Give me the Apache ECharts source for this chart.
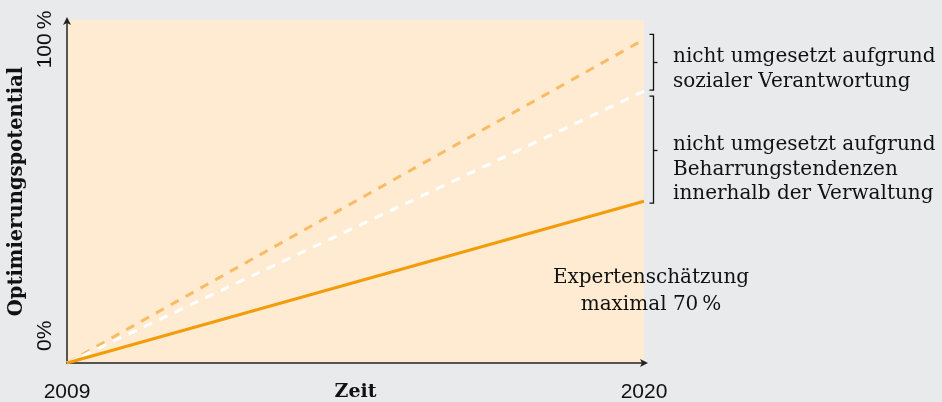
<!DOCTYPE html>
<html>
<head>
<meta charset="utf-8">
<title>Optimierungspotential</title>
<script src="https://cdn.jsdelivr.net/npm/echarts@6/dist/echarts.min.js"></script>
<style>
  html, body { margin: 0; padding: 0; background: #e9eaec; }
  #chart { width: 942px; height: 402px; }
</style>
</head>
<body>
<div id="chart"></div>
<script>
// Zeitachse (nur Anfangs- und Endjahr beschriftet)
const years = [2009, 2020]
// Optimierungspotential in %, jeweils Start- und Endwert
const totalPotential = [0, 100]   // gesamtes Potential
const afterSocial = [0, 84]       // ohne sozial bedingte Einschränkung
const realized = [0, 50]          // tatsächlich umgesetzt
const yTickValues = [0, 100]

const serif = 'DejaVu Serif'
const sans = 'Liberation Sans'

const chart = echarts.init(document.getElementById('chart'))

function pairs(values) {
  return years.map((y, i) => [y, values[i]])
}

chart.setOption({
  backgroundColor: '#e9eaec',
  animation: false,
  grid: {
    left: 67,
    right: 298,
    top: 20,
    bottom: 39,
    outerBoundsMode: 'none',
    show: true,
    backgroundColor: '#feebd2',
    borderWidth: 0
  },
  xAxis: {
    type: 'value',
    min: years[0],
    max: years[1],
    name: 'Zeit',
    nameLocation: 'middle',
    nameGap: 20,
    nameMoveOverlap: false,
    nameTextStyle: { fontFamily: serif, fontWeight: 'bold', fontSize: 19, color: '#111' },
    splitLine: { show: false },
    axisTick: { show: false },
    axisLine: {
      lineStyle: { color: '#222', width: 1.5 },
      symbol: ['none', 'arrow'],
      symbolSize: [6, 8],
      symbolOffset: [0, 4]
    },
    axisLabel: {
      customValues: years,
      margin: 19,
      fontFamily: sans,
      fontSize: 21,
      color: '#111',
      formatter: v => String(v)
    }
  },
  yAxis: {
    type: 'value',
    min: 0,
    max: 106,
    name: 'Optimierungspotential',
    nameLocation: 'middle',
    nameGap: 40,
    nameMoveOverlap: false,
    nameRotate: 90,
    nameTextStyle: { fontFamily: serif, fontWeight: 'bold', fontSize: 19.5, color: '#111' },
    splitLine: { show: false },
    axisTick: { show: false },
    axisLine: {
      lineStyle: { color: '#222', width: 1.5 },
      symbol: ['none', 'arrow'],
      symbolSize: [6, 8],
      symbolOffset: [0, 3]
    },
    axisLabel: {
      customValues: yTickValues,
      rotate: 90,
      margin: 11,
      alignMinLabel: 'left',
      fontFamily: sans,
      fontSize: 21,
      color: '#111',
      formatter: v => (v === 0 ? '{z|0%}' : v + '\u2009%'),
      rich: {
        z: { fontFamily: sans, fontSize: 21, color: '#111', padding: [0, 0, 0, 12] }
      }
    }
  },
  series: [
    {
      type: 'line',
      data: pairs(totalPotential),
      symbol: 'none',
      lineStyle: { color: '#f9bb63', width: 3, type: [9, 8] },
      z: 2
    },
    {
      type: 'line',
      data: pairs(afterSocial),
      symbol: 'none',
      lineStyle: { color: '#ffffff', width: 3, type: [9, 8] },
      z: 3
    },
    {
      type: 'line',
      data: pairs(realized),
      symbol: 'none',
      lineStyle: { color: '#f39c0a', width: 3 },
      z: 4
    }
  ]
})

// Klammern und Beschriftungen rechts vom Diagramm
const end = years[1]
const pTop = chart.convertToPixel({ gridIndex: 0 }, [end, totalPotential[1]])
const pMid = chart.convertToPixel({ gridIndex: 0 }, [end, afterSocial[1]])
const pLow = chart.convertToPixel({ gridIndex: 0 }, [end, realized[1]])

function bracket(x, y1, y2) {
  return {
    type: 'polyline',
    shape: { points: [[x - 4, y1], [x, y1], [x, y2], [x - 4, y2]] },
    style: { stroke: '#111', lineWidth: 1.3, fill: null },
    silent: true
  }
}
function midTick(x, y1, y2) {
  const m = Math.round((y1 + y2) / 2) + 0.5
  return {
    type: 'line',
    shape: { x1: x, y1: m, x2: x + 4, y2: m },
    style: { stroke: '#111', lineWidth: 1.3 },
    silent: true
  }
}

const bx = pTop[0] + 9.5
const b1 = [pTop[1] - 5, pMid[1] - 1]
const b2 = [pMid[1] + 5, pLow[1] + 2]

const textStyle = { fontFamily: serif, fontSize: 20, lineHeight: 24.5, fill: '#111' }

chart.setOption({
  graphic: [
    bracket(bx, b1[0], b1[1]),
    midTick(bx, b1[0], b1[1]),
    bracket(bx, b2[0], b2[1]),
    midTick(bx, b2[0], b2[1]),
    {
      type: 'text',
      x: 673,
      y: 45,
      style: Object.assign({ text: 'nicht umgesetzt aufgrund\nsozialer Verantwortung' }, textStyle)
    },
    {
      type: 'text',
      x: 673,
      y: 133,
      style: Object.assign({ text: 'nicht umgesetzt aufgrund\nBeharrungstendenzen\ninnerhalb der Verwaltung' }, textStyle)
    },
    {
      type: 'text',
      x: 651,
      y: 264,
      style: Object.assign({}, textStyle, { text: 'Expertenschätzung\nmaximal 70\u2009%', align: 'center', lineHeight: 27 })
    }
  ]
})
</script>
</body>
</html>
